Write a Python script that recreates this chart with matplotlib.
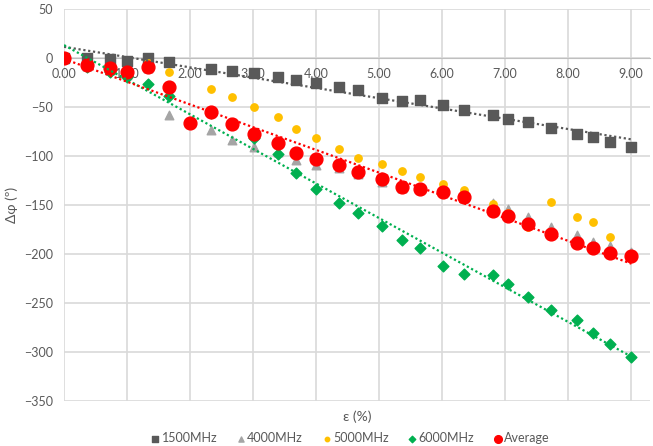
import numpy as np
import matplotlib
matplotlib.use("Agg")
import matplotlib.pyplot as plt

plt.rcParams['font.family'] = ['Lato', 'DejaVu Sans']

# strain values (%) shared by the frequency series
strain = [0.00, 0.36, 0.73, 1.00, 1.34, 1.67, 2.33, 2.67, 3.02, 3.40, 3.69, 4.00, 4.36, 4.67,
          5.05, 5.37, 5.66, 6.01, 6.35, 6.81, 7.05, 7.37, 7.73, 8.14, 8.40, 8.67, 9.01]
# the average series has one extra point at 2.00
strain_avg = [0.00, 0.36, 0.73, 1.00, 1.34, 1.67, 2.00, 2.33, 2.67, 3.02, 3.40, 3.69, 4.00, 4.36,
              4.67, 5.05, 5.37, 5.66, 6.01, 6.35, 6.81, 7.05, 7.37, 7.73, 8.14, 8.40, 8.67, 9.01]

phase_1500 = [0, 0, -1, -2.5, 0, -3.5, -10.7, -13, -15.5, -19.6, -22.6, -25.7, -29.8, -32.5,
              -40.3, -43.7, -43, -48, -52.6, -58.4, -61.8, -65.2, -71.7, -77.8, -80.8, -85.6, -90.4]
phase_4000 = [0, -8, -12, -17, -10, -58, -73.4, -83.6, -91, -96, -104.5, -109, -112, -118,
              -126, -133, -134, -137, -143, -148.3, -154.4, -162.6, -172.2, -181, -187.8, -192, -197.7]
phase_5000 = [0, -5, -7.6, -12.8, -5, -14.4, -31.5, -40, -50.2, -60.4, -72.4, -81.9, -92.5, -102.3,
              -108.1, -115.3, -121.1, -128.9, -135, -149, -158, -172.2, -146.6, -162.2, -167.3, -182.4, -200]
phase_6000 = [0, -9.3, -14, -18.9, -26.4, -38.3, -56, -67, -81.9, -98.2, -117.8, -133.2, -147.7, -158.5,
              -171.5, -185.8, -193.7, -212.4, -220.5, -221.9, -231, -243.7, -257.3, -267.5, -280.5, -292.4, -305]
phase_avg = [0, -7, -10.4, -14.4, -9.3, -29, -66.6, -54.6, -67.6, -77.8, -87, -96.5, -103, -108.8,
             -116.6, -123.8, -131.3, -133.7, -136.7, -142.2, -155.8, -161.3, -169.4, -179.7, -188.5,
             -194.3, -199.4, -202.5]

text_col = '#595959'
grid_col = '#D9D9D9'

fig = plt.figure(figsize=(6.53, 4.46), dpi=100)
ax = fig.add_axes([0.098, 0.1016, 0.897, 0.8775])

ax.scatter(strain, phase_1500, marker='s', s=55, color='#595959', label='1500MHz', zorder=3)
ax.scatter(strain, phase_4000, marker='^', s=38, color='#A5A5A5', label='4000MHz', zorder=3)
ax.scatter(strain, phase_5000, marker='o', s=28, color='#FFC000', label='5000MHz', zorder=3)
ax.scatter(strain, phase_6000, marker='D', s=30, color='#00B050', label='6000MHz', zorder=3)
ax.scatter(strain_avg, phase_avg, marker='o', s=85, color='#FF0000', label='Average', zorder=3)

# linear trend lines
for xs, ys, col in [(strain, phase_1500, '#595959'), (strain, phase_6000, '#00B050'),
                    (strain_avg, phase_avg, '#FF0000')]:
    k, b = np.polyfit(xs, ys, 1)
    xx = np.array([min(xs), max(xs)])
    ax.plot(xx, k * xx + b, color=col, linestyle=(0, (1, 1.2)), linewidth=1.6, zorder=4)

ax.set_xlim(0, 9.3)
ax.set_ylim(-350, 50)
ax.set_xticks(range(0, 10))
ax.set_xticklabels([f'{v:.2f}' for v in range(0, 10)])
ax.set_yticks(range(-350, 51, 50))
ax.grid(True, color=grid_col, linewidth=1.2)
ax.set_axisbelow(True)

for side in ['top', 'right', 'left']:
    ax.spines[side].set_visible(False)
ax.spines['bottom'].set_position(('data', 0))
ax.spines['bottom'].set_color('#BFBFBF')
ax.tick_params(length=0, colors=text_col, labelsize=9)
ax.tick_params(axis='x', pad=7)
ax.tick_params(axis='y', pad=8)

ax.set_xlabel('ε (%)', color=text_col, fontsize=10)
ax.xaxis.set_label_coords(0.5, -0.025)
ax.set_ylabel('Δφ (º)', color=text_col, fontsize=10, labelpad=4)

ax.legend(loc='upper center', bbox_to_anchor=(0.536, 0.043), bbox_transform=fig.transFigure,
          ncol=5, frameon=False, fontsize=9, labelcolor=text_col, handletextpad=0.1,
          handlelength=0.8, columnspacing=1.5, markerscale=0.6, borderaxespad=0)

fig.savefig('out.png', dpi=100)
